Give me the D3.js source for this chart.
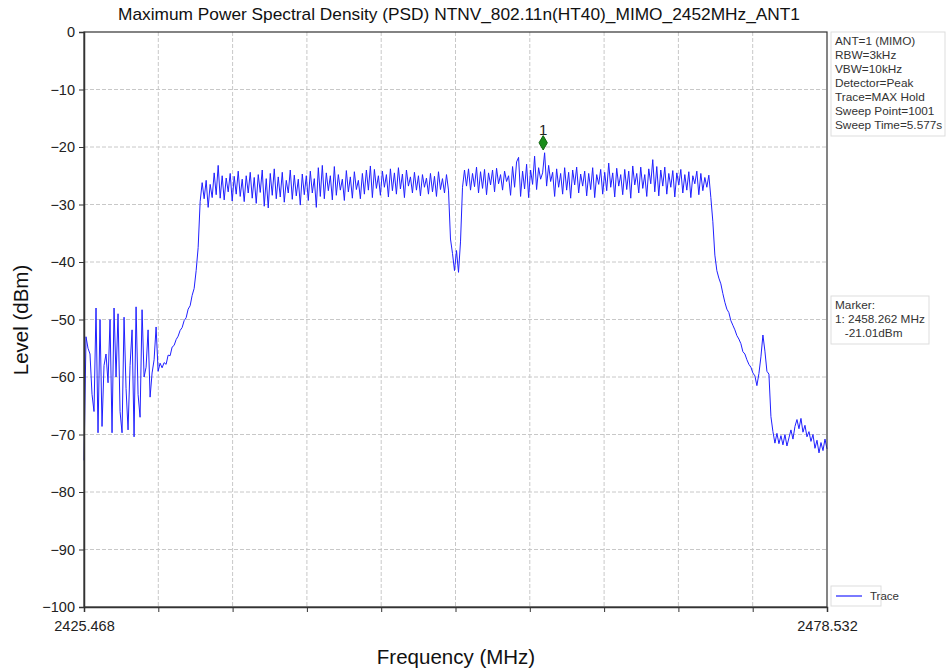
<!DOCTYPE html>
<html><head><meta charset="utf-8">
<script src="https://cdn.jsdelivr.net/npm/d3@7"></script>
<style>body{margin:0;background:#fff;font-family:"Liberation Sans",Arial,sans-serif;}</style>
</head><body><svg id="c" width="948" height="672"></svg>
<script>
const title = "Maximum Power Spectral Density (PSD) NTNV_802.11n(HT40)_MIMO_2452MHz_ANT1";
const freqStart = 2425.468, freqStop = 2478.532;
const yTicks = [0,-10,-20,-30,-40,-50,-60,-70,-80,-90,-100];
const xDivisions = 10;
const infoLines = ["ANT=1 (MIMO)","RBW=3kHz","VBW=10kHz","Detector=Peak","Trace=MAX Hold","Sweep Point=1001","Sweep Time=5.577s"];
const markerLines = ["Marker:","1: 2458.262 MHz","   -21.01dBm"];
const markerFreq = 2458.262, markerLevel = -21.01;
const legendLabel = "Trace";
// trace levels (dBm), evenly spaced across the sweep span
const levels = [
-74.5,-53,-55,-56,-63,-66,-48,-69.7,-50,-68.6,-58,-56,-61,-50,-69.7,-48,-60,-49,-66,-69.7,
-49.6,-62,-69.2,-58,-51.8,-70.4,-47.8,-63,-67,-48.3,-60,-58.3,-51.8,-63.5,-59.3,-57,-51.3,-59,-57.6,
-58.4,-57.5,-57.8,-56.2,-56.3,-54.8,-54.5,-53.5,-52.9,-51.9,-51.4,-50.2,-49.7,-48.2,-47.6,-45.8,-44.6,-41.5,-37.5,
-29.5,-26.2,-29.0,-25.8,-30.5,-26.5,-28.8,-24.5,-28.3,-23.2,-28.9,-25.0,-29.2,-25.4,-27.8,-24.6,-29.4,-25.1,-28.2,-24.2,
-28.6,-25.6,-29.5,-25.0,-28.0,-24.4,-28.9,-25.3,-29.8,-24.8,-27.9,-24.0,-30.3,-25.5,-30.6,-24.6,-28.4,-23.8,-29.0,-25.2,
-28.7,-24.4,-29.6,-25.8,-28.0,-24.0,-29.1,-24.9,-28.5,-25.6,-30.1,-24.7,-28.3,-25.0,-29.3,-24.2,-28.0,-25.5,-30.5,-23.6,
-28.6,-23.2,-29.0,-24.5,-27.6,-25.0,-29.2,-23.4,-28.4,-24.8,-27.5,-25.6,-29.3,-24.1,-27.8,-25.2,-28.9,-24.3,-27.4,-25.8,
-29.0,-24.6,-28.2,-24.0,-27.5,-23.3,-28.8,-23.9,-27.2,-25.0,-28.4,-24.2,-27.0,-24.8,-28.7,-23.8,-27.6,-24.5,-28.2,-23.6,
-27.3,-24.7,-28.8,-24.0,-26.8,-25.2,-28.0,-24.4,-27.5,-25.0,-28.5,-24.8,-27.0,-25.4,-28.2,-24.6,-27.8,-25.1,-28.6,-24.3,
-27.4,-25.5,-28.0,-24.8,
-27.5,-36.0,-38.5,-41.5,-38.0,-41.8,-36.5,
-27.0,-24.0,-26.8,-23.8,-27.5,-24.6,-26.9,-23.5,-28.0,-24.3,-27.2,-23.9,-28.3,-24.5,-26.6,-24.0,-27.8,-23.7,-26.4,-24.8,
-27.5,-24.2,-26.0,-25.0,-28.4,-23.4,-27.0,-22.6,-21.8,-28.6,-24.2,-27.3,-23.0,-28.8,-24.0,-26.5,-21.6,-27.4,-23.6,-25.6,
-24.5,-21.0,-26.8,-23.2,-26.0,-24.4,-28.6,-23.8,-27.0,-24.6,-28.2,-23.6,-27.5,-24.4,-28.9,-24.0,-26.6,-23.5,-28.0,-24.7,
-26.8,-24.2,-28.5,-24.6,-27.4,-23.6,-28.8,-24.8,-26.5,-23.9,-28.2,-24.4,-27.6,-22.8,-27.0,-24.5,-28.7,-23.7,-26.8,-24.8,
-28.3,-23.9,-27.4,-24.2,-28.9,-23.3,-26.6,-24.6,-28.0,-23.5,-27.2,-24.8,-28.6,-23.8,-26.4,-22.2,-27.8,-23.4,-28.5,-24.0,
-26.8,-23.5,-28.2,-24.6,-27.0,-24.1,-28.7,-24.5,-26.6,-23.9,-28.0,-24.8,-27.5,-24.3,-28.8,-25.0,-26.4,-24.2,-28.3,-24.6,
-27.6,-25.3,-27.0,-24.9,
-28.8,-33.0,-38.8,-41.5,-42.8,-43.8,-45.5,-47.0,-48.2,-48.8,-50.2,-51.0,-51.8,-52.8,-53.4,-54.2,-55.6,-56.0,-57.0,-57.8,
-58.3,-59.3,-59.8,-61.5,-59.4,-56.5,-52.7,-55.5,-59.0,-59.5,-66.9,-69.5,
-71.5,-69.8,-71.6,-70.2,-71.8,-70.0,-72.0,-70.6,-69.2,-70.8,-68.6,-67.4,-69.0,-67.2,-69.6,-68.4,-70.4,-69.5,-71.2,-70.0,
-72.4,-71.0,-73.2,-71.4,-72.8,-70.8,-72.5
];

const W = 948, H = 672;
const m = {left:84, right:827, top:32, bottom:607};
const svg = d3.select("#c");
svg.append("rect").attr("width",W).attr("height",H).attr("fill","#fff");

const x = d3.scaleLinear().domain([freqStart,freqStop]).range([m.left,m.right]);
const y = d3.scaleLinear().domain([-100,0]).range([m.bottom,m.top]);
const step = (freqStop-freqStart)/(levels.length-1);
const data = levels.map((v,i)=>({f:freqStart+i*step, v}));
const xTickVals = d3.range(xDivisions+1).map(i=>freqStart+i*(freqStop-freqStart)/xDivisions);

// grid
const g = svg.append("g");
g.selectAll("line.vg").data(xTickVals.slice(1,-1)).join("line")
  .attr("x1",d=>x(d)).attr("x2",d=>x(d)).attr("y1",m.top).attr("y2",m.bottom)
  .attr("stroke","#c8c8c8").attr("stroke-width",1).attr("stroke-dasharray","4,2");
g.selectAll("line.hg").data(yTicks.slice(1,-1)).join("line")
  .attr("x1",m.left).attr("x2",m.right).attr("y1",d=>y(d)).attr("y2",d=>y(d))
  .attr("stroke","#c8c8c8").attr("stroke-width",1).attr("stroke-dasharray","4,2");

// trace
svg.append("path").datum(data)
  .attr("d",d3.line().x(d=>x(d.f)).y(d=>y(d.v)))
  .attr("fill","none").attr("stroke","#2020ff").attr("stroke-width",1);

// frame
svg.append("rect").attr("x",m.left).attr("y",m.top).attr("width",m.right-m.left).attr("height",m.bottom-m.top)
  .attr("fill","none").attr("stroke","#333").attr("stroke-width",1.2);

// axes
const yAxis = d3.axisLeft(y).tickValues(yTicks).tickSize(5).tickPadding(4);
const ya = svg.append("g").attr("transform",`translate(${m.left},0)`).call(yAxis);
ya.select(".domain").attr("stroke","#333").attr("stroke-width",1.5);
ya.selectAll("text").attr("font-size",14.5).attr("fill","#222").attr("font-family","Liberation Sans, Arial, sans-serif");
ya.selectAll(".tick line").attr("stroke","#333");

const xAxis = d3.axisBottom(x).tickValues(xTickVals).tickSize(5)
  .tickFormat((d,i)=> (i===0||i===xDivisions)? d3.format(".3f")(d) : "");
const xa = svg.append("g").attr("transform",`translate(0,${m.bottom})`).call(xAxis);
xa.select(".domain").attr("stroke","#333").attr("stroke-width",1.5);
xa.selectAll("text").attr("font-size",14.5).attr("fill","#222").attr("dy","1.1em").attr("font-family","Liberation Sans, Arial, sans-serif");
xa.selectAll(".tick line").attr("stroke","#333");

// title and labels
svg.append("text").attr("x",459).attr("y",20).attr("text-anchor","middle")
  .attr("font-size",17).attr("fill","#111")
  .attr("textLength",682).attr("lengthAdjust","spacingAndGlyphs").text(title);
svg.append("text").attr("transform","translate(28,320) rotate(-90)").attr("text-anchor","middle")
  .attr("font-size",20.5).attr("fill","#111").text("Level (dBm)");
svg.append("text").attr("x",456).attr("y",664).attr("text-anchor","middle")
  .attr("font-size",20.5).attr("fill","#111").text("Frequency (MHz)");

// marker
const mx = x(markerFreq), my = y(markerLevel)-10;
svg.append("path").attr("d",d3.symbol().type(d3.symbolDiamond).size(60)())
  .attr("transform",`translate(${mx},${my})`).attr("fill","#1a8c1a").attr("stroke","#116611");
svg.append("text").attr("x",mx).attr("y",my-8).attr("text-anchor","middle")
  .attr("font-size",15).attr("fill","#222").text("1");

// info box
function box(x0,y0,w,lines){
  const h = lines.length*14+6;
  svg.append("rect").attr("x",x0).attr("y",y0).attr("width",w).attr("height",h)
    .attr("fill","#fff").attr("stroke","#ddd");
  svg.append("g").selectAll("text").data(lines).join("text")
    .attr("x",x0+4).attr("y",(d,i)=>y0+13+i*14).attr("font-size",11.8).attr("fill","#333")
    .attr("xml:space","preserve").style("white-space","pre").text(d=>d);
}
box(831,32,114,infoLines);
box(831,296,98,markerLines);

// legend
svg.append("rect").attr("x",831).attr("y",586).attr("width",50).attr("height",20).attr("fill","#fff").attr("stroke","#ddd");
svg.append("line").attr("x1",836).attr("x2",862).attr("y1",596).attr("y2",596).attr("stroke","#2020ff").attr("stroke-width",1.2);
svg.append("text").attr("x",870).attr("y",600).attr("font-size",11.5).attr("fill","#333").text(legendLabel);
</script></body></html>
